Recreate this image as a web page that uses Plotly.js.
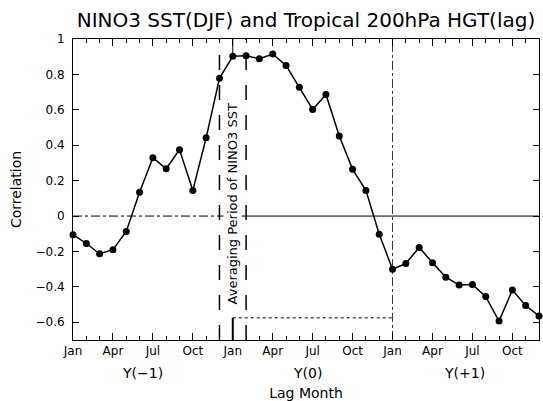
<!DOCTYPE html>
<html>
<head>
<meta charset="utf-8">
<script src="https://cdn.plot.ly/plotly-3.0.1.min.js"></script>
<style>html,body{margin:0;padding:0;background:#fff;}#chart{width:543px;height:401px;}</style>
</head>
<body>
<div id="chart"></div>
<script>
// Lag months: Jan Y(-1) ... Dec Y(+1)
var monthNames = ["Jan","Feb","Mar","Apr","May","Jun","Jul","Aug","Sep","Oct","Nov","Dec"];
var yearLabels = ["Y(\u22121)","Y(0)","Y(+1)"];
var corrYm1 = [-0.105,-0.155,-0.213,-0.19,-0.087,0.134,0.33,0.267,0.375,0.145,0.442,0.778];
var corrY0  = [0.902,0.906,0.888,0.915,0.851,0.727,0.602,0.686,0.452,0.264,0.145,-0.103];
var corrYp1 = [-0.30,-0.268,-0.177,-0.263,-0.345,-0.39,-0.386,-0.455,-0.593,-0.418,-0.505,-0.564];
var tickLabels = ["Jan","Apr","Jul","Oct","Jan","Apr","Jul","Oct","Jan","Apr","Jul","Oct"];

var corr = corrYm1.concat(corrY0, corrYp1);
var lag = corr.map(function(_, i){ return i; });
var tickPos = tickLabels.map(function(_, i){ return i*3; });

var avgStart = 11, avgCenter = 12, avgEnd = 13, nextJan = 24;

var trace = {
  x: lag, y: corr, type: 'scatter', mode: 'lines+markers',
  line: {color: '#000', width: 1.5},
  marker: {color: '#000', size: 7},
  cliponaxis: false, showlegend: false, hoverinfo: 'skip'
};

var fam = 'DejaVu Sans, Verdana, sans-serif';

var layout = {
  width: 543, height: 401,
  margin: {l: 73, r: 4, t: 39, b: 61},
  paper_bgcolor: '#fff', plot_bgcolor: '#fff',
  font: {family: fam, color: '#000', size: 12},
  title: {text: 'NINO3 SST(DJF) and Tropical 200hPa HGT(lag)', font: {family: fam, size: 20, color: '#000'},
          x: 0.5635, xanchor: 'center', y: 0.951, yanchor: 'middle'},
  xaxis: {
    range: [0, 35], showgrid: false, zeroline: false,
    showline: true, linecolor: '#000', linewidth: 1, mirror: 'ticks',
    tickmode: 'array', tickvals: tickPos, ticktext: tickLabels,
    ticks: 'inside', ticklen: 7, tickcolor: '#000',
    minor: {dtick: 1, tick0: 0, ticks: 'inside', ticklen: 4, tickcolor: '#000', showgrid: false},
    tickfont: {size: 12},
    title: {text: 'Lag Month', font: {size: 14}, standoff: 30}
  },
  yaxis: {
    range: [-0.7, 1], dtick: 0.2, tick0: 0, showgrid: false, zeroline: false,
    showline: true, linecolor: '#000', linewidth: 1, mirror: 'ticks',
    tickfont: {size: 12}, ticklabelstandoff: 5,
    ticks: 'inside', ticklen: 6, tickcolor: '#000',
    title: {text: 'Correlation', font: {size: 14}, standoff: 10}
  },
  shapes: [
    {type: 'line', xref: 'x', yref: 'y', x0: 0, x1: avgStart, y0: 0, y1: 0, line: {color: '#000', width: 1, dash: 'dashdot'}},
    {type: 'line', xref: 'x', yref: 'y', x0: avgStart, x1: 35, y0: 0, y1: 0, line: {color: '#000', width: 1}},
    {type: 'line', xref: 'x', yref: 'y', x0: avgStart, x1: avgStart, y0: -0.7, y1: 1, line: {color: '#000', width: 1.5, dash: 'longdash'}},
    {type: 'line', xref: 'x', yref: 'y', x0: avgEnd, x1: avgEnd, y0: -0.7, y1: 1, line: {color: '#000', width: 1.5, dash: 'longdash'}},
    {type: 'line', xref: 'x', yref: 'y', x0: avgCenter, x1: avgCenter, y0: -0.7, y1: -0.575, line: {color: '#000', width: 2}},
    {type: 'line', xref: 'x', yref: 'y', x0: avgCenter, x1: avgCenter, y0: 0.9, y1: 1, line: {color: '#000', width: 1}},
    {type: 'line', xref: 'x', yref: 'y', x0: avgCenter, x1: nextJan, y0: -0.575, y1: -0.575, line: {color: '#000', width: 1, dash: 'dot'}},
    {type: 'line', xref: 'x', yref: 'y', x0: nextJan, x1: nextJan, y0: -0.7, y1: 1, line: {color: '#000', width: 0.8, dash: 'dashdot'}}
  ],
  annotations: [
    {text: 'Averaging Period of NINO3 SST', xref: 'x', yref: 'y', x: avgCenter, y: 0.07, textangle: -90,
     showarrow: false, font: {size: 13}, bgcolor: '#fff'},
    {text: yearLabels[0], xref: 'x', yref: 'paper', x: 5.2, y: -0.075, yanchor: 'top', showarrow: false, font: {size: 14}},
    {text: yearLabels[1], xref: 'x', yref: 'paper', x: 17.6, y: -0.075, yanchor: 'top', showarrow: false, font: {size: 14}},
    {text: yearLabels[2], xref: 'x', yref: 'paper', x: 29.4, y: -0.075, yanchor: 'top', showarrow: false, font: {size: 14}}
  ]
};

Plotly.newPlot('chart', [trace], layout, {displayModeBar: false, staticPlot: true});
</script>
</body>
</html>
